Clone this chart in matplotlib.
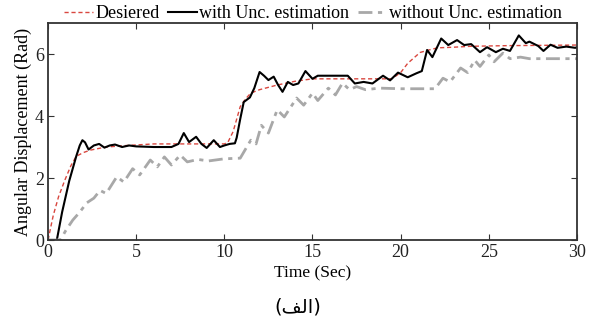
import matplotlib.pyplot as plt

# values
t_des = [0, 0.3, 0.6, 0.96, 1.3, 1.6, 2.0, 2.4, 3.3, 4.5, 6, 8, 10.0, 10.2, 10.5, 10.9, 11.2, 11.5, 12.0, 13.0, 14.0, 15.0, 17, 19.5, 20.0, 20.4, 20.8, 21.1, 21.6, 22.1, 23.0, 24.0, 26, 28, 30]
y_des = [0, 0.8, 1.4, 1.94, 2.4, 2.7, 2.82, 2.9, 3.0, 3.05, 3.1, 3.1, 3.1, 3.15, 3.5, 4.3, 4.55, 4.74, 4.85, 5.0, 5.12, 5.2, 5.2, 5.2, 5.4, 5.7, 5.9, 6.05, 6.13, 6.2, 6.22, 6.25, 6.27, 6.28, 6.29]

t_with = [0, 0.5, 0.8, 1.2, 1.6, 1.8, 1.95, 2.1, 2.3, 2.6, 2.9, 3.2, 3.5, 3.8, 4.2, 4.6, 5.0, 6, 7.0, 7.4, 7.7, 8.0, 8.4, 8.7, 9.0, 9.4, 9.75, 10.0, 10.3, 10.6, 10.7, 10.9, 11.1, 11.45, 11.7, 12.0, 12.25, 12.5, 12.8, 13.05, 13.3, 13.6, 13.9, 14.2, 14.6, 15.0, 15.3, 16, 17.0, 17.4, 17.9, 18.4, 19.0, 19.4, 19.85, 20.4, 20.9, 21.2, 21.5, 21.8, 22.3, 22.7, 23.2, 23.6, 24.0, 24.5, 24.9, 25.4, 25.8, 26.2, 26.7, 27.1, 27.3, 27.8, 28.1, 28.5, 28.9, 29.4, 29.9, 30]
y_with = [0, 0, 0.9, 1.9, 2.7, 3.05, 3.22, 3.15, 2.92, 3.05, 3.1, 2.98, 3.05, 3.08, 3.0, 3.05, 3.02, 3.0, 3.0, 3.1, 3.45, 3.16, 3.33, 3.1, 2.97, 3.22, 3.0, 3.05, 3.1, 3.12, 3.3, 3.9, 4.45, 4.6, 4.9, 5.42, 5.3, 5.16, 5.27, 5.0, 4.78, 5.1, 5.0, 5.05, 5.45, 5.2, 5.3, 5.3, 5.3, 5.05, 5.1, 5.05, 5.3, 5.15, 5.4, 5.25, 5.38, 5.45, 6.13, 5.9, 6.5, 6.29, 6.45, 6.29, 6.32, 6.06, 6.22, 6.06, 6.17, 6.1, 6.6, 6.35, 6.4, 6.26, 6.1, 6.3, 6.2, 6.24, 6.2, 6.22]

t_without = [0, 0.7, 1.0, 1.4, 1.8, 2.2, 2.6, 2.95, 3.3, 3.9, 4.3, 4.8, 5.2, 5.8, 6.2, 6.6, 7.0, 7.5, 7.9, 8.5, 9.1, 10.0, 10.9, 11.5, 11.8, 12.1, 12.5, 13.0, 13.4, 14.1, 14.5, 15.0, 15.3, 15.9, 16.3, 16.7, 17.1, 17.5, 18.0, 18.8, 20.0, 21.0, 21.95, 22.4, 22.8, 23.4, 23.8, 24.2, 24.5, 25.0, 25.3, 25.8, 26.2, 26.8, 27.3, 28, 29, 30]
y_without = [0, 0, 0.3, 0.64, 0.9, 1.2, 1.35, 1.6, 1.5, 2.04, 1.87, 2.3, 2.1, 2.58, 2.36, 2.68, 2.42, 2.74, 2.52, 2.6, 2.55, 2.62, 2.64, 3.22, 3.1, 3.7, 3.45, 4.2, 3.97, 4.58, 4.35, 4.74, 4.5, 4.9, 4.68, 5.06, 4.85, 4.95, 4.85, 4.9, 4.88, 4.88, 4.88, 5.22, 5.1, 5.55, 5.4, 5.8, 5.6, 5.97, 5.75, 6.03, 5.85, 5.9, 5.85, 5.85, 5.85, 5.85]

x_ticks = [0, 5, 10, 15, 20, 25, 30]
y_ticks = [0, 2, 4, 6]
caption = '(\ufed2\ufedf\ufe8d)'  # (الف) in shaped visual order

plt.rcParams['font.family'] = ['Liberation Serif', 'DejaVu Serif']

fig = plt.figure(figsize=(5.95, 3.29), dpi=100)
ax = fig.add_axes([0.0807, 0.2705, 0.889, 0.6595])

ax.plot(t_des, y_des, color='#d9473f', linestyle=(0, (3, 2)), linewidth=1.0, label='Desiered')
ax.plot(t_with, y_with, color='black', linewidth=1.5, label='with Unc. estimation')
ax.plot(t_without, y_without, color='#a8a8a8', linestyle=(0, (5, 2, 1.5, 2)), linewidth=2.0, label='without Unc. estimation')

ax.set_xlim(0, 30)
ax.set_ylim(0, 7)
ax.set_xticks(x_ticks)
ax.set_yticks(y_ticks)
ax.tick_params(direction='in', top=True, right=True, labelsize=13, length=4, colors='#333333', pad=3)
for tl in ax.get_xticklabels() + ax.get_yticklabels():
    tl.set_color('#222222')
for s in ax.spines.values():
    s.set_linewidth(1.3)
    s.set_color('#333333')

ax.set_xlabel('Time (Sec)', fontsize=12.5, labelpad=3)
ax.set_ylabel('Angular Displacement (Rad)', fontsize=13, labelpad=2)

fig.legend(loc='upper center', bbox_to_anchor=(0.526, 1.012), ncol=3, frameon=False,
           fontsize=13, handlelength=1.6, handletextpad=0.15, columnspacing=0.45, borderpad=0)

fig.text(0.5, 0.067, caption, ha='center', va='center', fontsize=14, family='DejaVu Sans')

fig.savefig('out.png', dpi=100)
